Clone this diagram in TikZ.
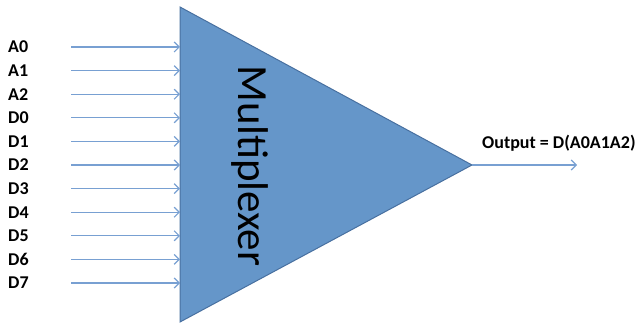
\documentclass[tikz,border=0pt]{standalone}
\usepackage{fontspec}
\setmainfont{Carlito}
\usetikzlibrary{arrows.meta, positioning}
\definecolor{muxfill}{RGB}{101,150,201}
\definecolor{muxedge}{RGB}{72,112,160}
\definecolor{wire}{RGB}{120,160,210}

\begin{document}
\begin{tikzpicture}[x=1pt, y=-1pt, >={Straight Barb[length=5pt,width=10pt]}]
    \tikzset{signal/.style = {font=\bfseries\fontsize{18}{21}\selectfont, anchor=west, inner sep=0pt}}
    \tikzset{wirearrow/.style = {draw=wire, ->, line width=1.2pt}}
    \useasboundingbox (0,0) rectangle (636,328);

    % Multiplexer body
    \coordinate (top) at (180,7);
    \coordinate (bot) at (180,322);
    \coordinate (apex) at (472,165);
    \draw[fill=muxfill, draw=muxedge, line width=1pt] (top) -- (apex) -- (bot) -- cycle;
    \node[rotate=-90, font=\fontsize{43}{48}\selectfont] (mux) at (250,166) {Multiplexer};

    % Inputs
    \foreach \name [count=\i from 0] in {A0,A1,A2,D0,D1,D2,D3,D4,D5,D6,D7} {
        \node[signal] (in\i) at (8,47+23.6*\i) {\name};
        \coordinate (src\i) at (71,47+23.6*\i);
        \coordinate (dst\i) at (180,47+23.6*\i);
        \draw[wirearrow] (src\i) -- (dst\i);
    }

    % Output
    \coordinate (out) at (577,165);
    \draw[wirearrow] (apex) -- (out);
    \node[signal] (outlbl) at (482,143) {Output = D(A0A1A2)};
\end{tikzpicture}
\end{document}
